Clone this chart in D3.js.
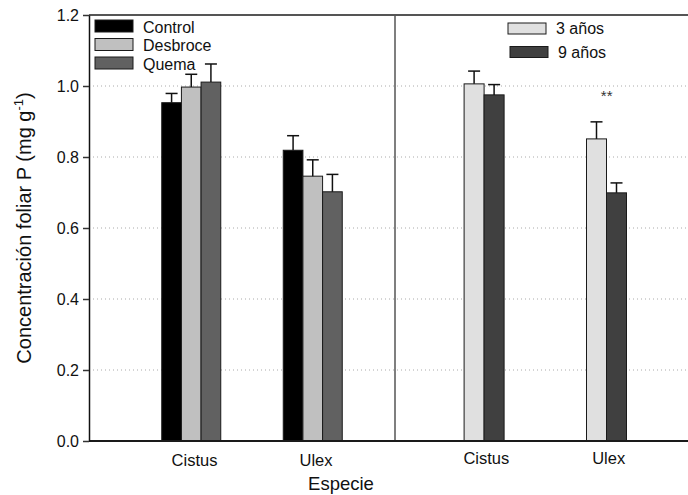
<!DOCTYPE html>
<html><head><meta charset="utf-8">
<script src="https://cdn.jsdelivr.net/npm/d3@7"></script>
<style>html,body{margin:0;padding:0;background:#fff;} svg{display:block;font-family:"Liberation Sans",Arial,sans-serif;}</style>
</head><body><svg id="c" width="688" height="495"></svg>
<script>
const species = ["Cistus", "Ulex"];
const treatments = ["Control", "Desbroce", "Quema"];
const treatMeans = { "Control": [0.953, 0.819], "Desbroce": [0.997, 0.746], "Quema": [1.011, 0.702] };
const treatErr   = { "Control": [0.026, 0.041], "Desbroce": [0.036, 0.046], "Quema": [0.051, 0.049] };
const ages = ["3 años", "9 años"];
const ageMeans = { "3 años": [1.006, 0.851], "9 años": [0.975, 0.699] };
const ageErr   = { "3 años": [0.036, 0.048], "9 años": [0.029, 0.028] };
const yTicks = [0.0, 0.2, 0.4, 0.6, 0.8, 1.0, 1.2];
const signif = { species: "Ulex", label: "**", value: 0.975 };

const treatColors = { "Control": "#000000", "Desbroce": "#c0c0c0", "Quema": "#616161" };
const ageColors = { "3 años": "#e0e0e0", "9 años": "#404040" };

const svg = d3.select("#c");
const L = 89, R = 688, T = 15, B = 441, DIV = 395;

const y = d3.scaleLinear().domain([0, 1.2]).range([B, T]);

// gridlines
svg.append("g").selectAll("line").data(yTicks.filter(v => v > 0 && v < 1.2)).join("line")
  .attr("x1", L).attr("x2", R).attr("y1", d => y(d)).attr("y2", d => y(d))
  .attr("stroke", "#aaa").attr("stroke-width", 1).attr("stroke-dasharray", "1,3");

// scales for panels
const xL = d3.scaleBand().domain(species).range([130.75, 373.75]);
const xLi = d3.scaleBand().domain(treatments).range([31, 90]);
const xR = d3.scaleBand().domain(species).range([423.1, 667.9]);
const xRi = d3.scaleBand().domain(ages).range([41, 81]);

function drawBars(groups, means, errs, colors, xo, xi) {
  const data = [];
  groups.forEach(g => species.forEach((s, i) => data.push({ g, s, v: means[g][i], e: errs[g][i] })));
  const gg = svg.append("g");
  gg.selectAll("rect").data(data).join("rect")
    .attr("x", d => xo(d.s) + xi(d.g)).attr("width", xi.bandwidth())
    .attr("y", d => y(d.v)).attr("height", d => y(0) - y(d.v))
    .attr("fill", d => colors[d.g]).attr("stroke", "#1a1a1a").attr("stroke-width", 1);
  const eb = gg.selectAll("g.eb").data(data).join("g").attr("class", "eb");
  eb.append("line")
    .attr("x1", d => xo(d.s) + xi(d.g) + xi.bandwidth() / 2).attr("x2", d => xo(d.s) + xi(d.g) + xi.bandwidth() / 2)
    .attr("y1", d => y(d.v)).attr("y2", d => y(d.v + d.e))
    .attr("stroke", "#111").attr("stroke-width", 1.5);
  eb.append("line")
    .attr("x1", d => xo(d.s) + xi(d.g) + xi.bandwidth() / 2 - 6).attr("x2", d => xo(d.s) + xi(d.g) + xi.bandwidth() / 2 + 6)
    .attr("y1", d => y(d.v + d.e)).attr("y2", d => y(d.v + d.e))
    .attr("stroke", "#111").attr("stroke-width", 1.5);
}
drawBars(treatments, treatMeans, treatErr, treatColors, xL, xLi);
drawBars(ages, ageMeans, ageErr, ageColors, xR, xRi);

// significance
svg.append("text").attr("x", xR(signif.species) + xR.bandwidth() / 2).attr("y", y(signif.value) + 6)
  .attr("text-anchor", "middle").attr("font-size", 15).attr("fill", "#333").text(signif.label);

// frame
svg.append("line").attr("x1", L).attr("x2", R).attr("y1", T).attr("y2", T).attr("stroke", "#555").attr("stroke-width", 2);
svg.append("line").attr("x1", DIV).attr("x2", DIV).attr("y1", T).attr("y2", B).attr("stroke", "#555").attr("stroke-width", 1.5);
svg.append("line").attr("x1", L).attr("x2", R).attr("y1", B).attr("y2", B).attr("stroke", "#1a1a1a").attr("stroke-width", 2);

// y axis
const yAxis = d3.axisLeft(y).tickValues(yTicks).tickFormat(d3.format(".1f")).tickSizeOuter(0).tickSizeInner(6).tickPadding(4);
const ya = svg.append("g").attr("transform", `translate(${L},0)`).call(yAxis);
ya.select(".domain").attr("stroke", "#111").attr("stroke-width", 1.5);
ya.selectAll(".tick line").attr("stroke", "#333").attr("stroke-width", 1.5);
ya.selectAll(".tick text").attr("font-size", 16).attr("font-family", "Liberation Sans, Arial, sans-serif").attr("fill", "#111");

// x category labels
svg.append("g").selectAll("text").data(species).join("text")
  .attr("x", d => xL(d) + xL.bandwidth() / 2 + 3).attr("y", 466).attr("text-anchor", "middle")
  .attr("font-size", 16.5).attr("fill", "#111").text(d => d);
svg.append("g").selectAll("text").data(species).join("text")
  .attr("x", d => xR(d) + xR.bandwidth() / 2 + 2).attr("y", 464).attr("text-anchor", "middle")
  .attr("font-size", 16.5).attr("fill", "#111").text(d => d);

// axis titles
svg.append("text").attr("x", 341).attr("y", 490).attr("text-anchor", "middle").attr("font-size", 18.5).attr("fill", "#111").text("Especie");
const yt = svg.append("text").attr("transform", "translate(31,228) rotate(-90)").attr("text-anchor", "middle").attr("font-size", 20).attr("fill", "#111");
yt.append("tspan").text("Concentración foliar P (mg g");
yt.append("tspan").attr("font-size", 13).attr("dy", -8).text("-1");
yt.append("tspan").attr("dy", 8).text(")");

// legends
const lg1 = svg.append("g").selectAll("g").data(treatments).join("g")
  .attr("transform", (d, i) => `translate(95,${20 + i * 18.5})`);
lg1.append("rect").attr("width", 38).attr("height", 12).attr("fill", d => treatColors[d]).attr("stroke", "#1a1a1a").attr("stroke-width", 1);
lg1.append("text").attr("x", 48).attr("y", 12.5).attr("font-size", 16).attr("fill", "#111").text(d => d);

const lg2 = svg.append("g").selectAll("g").data(ages).join("g")
  .attr("transform", (d, i) => `translate(${508 + i * 2},${23 + i * 23.5})`);
lg2.append("rect").attr("width", 38).attr("height", 11).attr("fill", d => ageColors[d]).attr("stroke", "#1a1a1a").attr("stroke-width", 1);
lg2.append("text").attr("x", 48).attr("y", 11).attr("font-size", 16).attr("fill", "#111").text(d => d);
</script></body></html>
